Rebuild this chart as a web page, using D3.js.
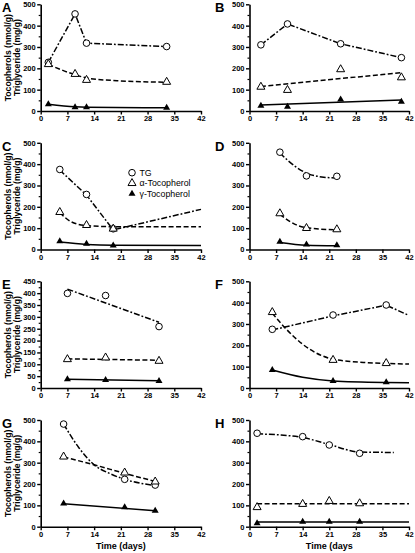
<!DOCTYPE html>
<html><head><meta charset="utf-8">
<script src="https://cdn.jsdelivr.net/npm/d3@7"></script>
<style>body{margin:0;background:#fff}svg{display:block}</style>
</head><body>
<svg id="c" width="415" height="553"></svg>
<script>
// ---- data ----
const panelLetters = ["A","B","C","D","E","F","G","H"];
const yMaxes = [500,500,500,500,450,500,500,500];
const xTicks = [0,7,14,21,28,35,42];
const yTicks500 = [0,100,200,300,400,500];
const yTicks450 = [0,50,100,150,200,250,300,350,400,450];
const legendLabels = ["TG","\u03b1-Tocopherol","\u03b3-Tocopherol"];
const yTitle1 = "Tocopherols (nmol/g)";
const yTitle2 = "Triglyceride (mg/g)";
const xTitles = ["Time (days)","Time (days"];

// measured points [day, value]
const tgPts = [
  [[2,228],[9,455],[12,318],[33,302]],
  [[3,310],[10,408],[24,315],[40,250]],
  [[5,375],[12,258],[19,97]],
  [[8,456],[15,345],[23,343]],
  [[7,399],[17,390],[31,259]],
  [[6,275],[22,342],[36,389]],
  [[6,481],[22,222],[30,195]],
  [[2,438],[14,422],[21,383],[29,344]]
];
const alphaPts = [
  [[2,219],[9,173],[12,145],[33,136]],
  [[3,113],[10,98],[24,195],[40,157]],
  [[5,175],[12,114],[19,97]],
  [[8,169],[15,100],[23,94]],
  [[7,121],[17,128],[31,114]],
  [[6,355],[22,131],[36,116]],
  [[6,328],[22,253],[30,211]],
  [[2,91],[14,106],[21,120],[29,109]]
];
const gammaPts = [
  [[2,32],[9,17],[12,17],[33,15]],
  [[3,25],[10,20],[24,54],[40,43]],
  [[5,39],[12,27],[19,19]],
  [[8,36],[15,23],[23,20]],
  [[7,37],[17,34],[31,30]],
  [[6,84],[22,33],[36,27]],
  [[6,109],[22,91],[30,75]],
  [[2,16],[14,23],[21,23],[29,23]]
];
// fitted / connecting lines [day, value]
const tgLine = [
  [[2,228],[9,455],[12,318],[33,302]],
  [[3,310],[10,408],[24,315],[40,250]],
  [[5,372],[12,255],[19,92],[42,188]],
  [[8,452],[12,390],[15,358],[19,340],[23,335]],
  [[7,417],[31,277]],
  [[6,272],[22,338],[36,388],[42,340]],
  [[6,481],[10,370],[14,290],[18,250],[22,222],[30,193]],
  [[2,435],[8,430],[14,418],[21,385],[29,350],[38,348]]
];
const alphaLine = [
  [[2,218],[9,170],[12,155],[20,142],[33,135]],
  [[3,115],[40,180]],
  [[5,172],[8,130],[12,112],[19,107],[42,107]],
  [[8,165],[12,118],[15,102],[23,92]],
  [[7,123],[31,117]],
  [[6,350],[10,270],[14,205],[22,135],[30,120],[36,115],[42,112]],
  [[6,327],[14,290],[22,250],[30,212]],
  [[2,108],[42,108]]
];
const gammaLine = [
  [[2,32],[9,20],[12,18],[33,15]],
  [[3,28],[40,51]],
  [[5,35],[12,24],[19,20],[42,19]],
  [[8,33],[15,20],[23,17]],
  [[7,37],[31,31]],
  [[6,84],[14,50],[22,33],[36,26],[42,25]],
  [[6,108],[30,75]],
  [[2,22],[42,22]]
];

// ---- layout ----
const svg = d3.select("#c");
const colX = [[40.7,201],[249.5,409]];
const rowBottoms = [111,249.5,388,526.7];
const plotH = 106.7;
const font = "Liberation Sans, Arial, sans-serif";
const linearPanels = new Set([0,1,2,4,5]);

function triPath(w,h){return `M0,${-h*2/3}L${w/2},${h/3}L${-w/2},${h/3}Z`;}

panelLetters.forEach((L,i)=>{
  const col = i%2, row = Math.floor(i/2);
  const [x0,x1] = colX[col];
  const yb = rowBottoms[row], yt = yb-plotH;
  const x = d3.scaleLinear().domain([0,42]).range([x0,x1]);
  const y = d3.scaleLinear().domain([0,yMaxes[i]]).range([yb,yt]);
  const g = svg.append("g");
  const yt_ = yMaxes[i]===450 ? yTicks450 : yTicks500;
  const step = yt_[1]-yt_[0];
  const minor = d3.range(step/2, yMaxes[i], step);

  // minor ticks
  g.append("g").attr("transform",`translate(${x0},0)`)
    .call(d3.axisLeft(y).tickValues(minor).tickSize(2).tickFormat(""))
    .call(a=>{a.select(".domain").remove();a.selectAll("line").attr("stroke-width",1.2);});
  // y axis
  g.append("g").attr("transform",`translate(${x0},0)`)
    .call(d3.axisLeft(y).tickValues(yt_).tickSize(3.5).tickSizeOuter(0).tickPadding(1.5))
    .call(a=>{
      a.select(".domain").attr("stroke-width",1.6);
      a.selectAll("line").attr("stroke-width",1.4);
      a.selectAll("text").attr("font-family",font).attr("font-weight","bold").attr("font-size",7.5).attr("fill","#000");
    });
  // x axis
  g.append("g").attr("transform",`translate(0,${yb})`)
    .call(d3.axisBottom(x).tickValues(xTicks).tickSize(3.5).tickSizeOuter(0).tickPadding(1.5))
    .call(a=>{
      a.select(".domain").attr("stroke-width",1.6);
      a.selectAll("line").attr("stroke-width",1.4);
      a.selectAll("text").attr("font-family",font).attr("font-weight","bold").attr("font-size",7.5).attr("fill","#000");
    });

  // letter
  svg.append("text").attr("x", col===0 ? 2 : 215).attr("y", yt+8)
    .attr("font-family",font).attr("font-weight","bold").attr("font-size",13).text(L);

  // y titles (left column)
  if(col===0){
    const cy = (yb+yt)/2;
    [[yTitle1,10.5],[yTitle2,19.5]].forEach(([t,xx])=>{
      svg.append("text").attr("transform",`translate(${xx},${cy}) rotate(-90)`)
        .attr("text-anchor","middle").attr("font-family",font).attr("font-weight","bold")
        .attr("font-size",8.6).text(t);
    });
  }
  if(row===3){
    svg.append("text").attr("x",(x0+x1)/2).attr("y",yb+22).attr("text-anchor","middle")
      .attr("font-family",font).attr("font-weight","bold").attr("font-size",9).text(xTitles[col]);
  }

  // lines
  const mk = (pts,curve)=>d3.line().x(d=>x(d[0])).y(d=>y(d[1])).curve(curve)(pts);
  g.append("path").attr("d",mk(tgLine[i], linearPanels.has(i)?d3.curveLinear:d3.curveMonotoneX))
    .attr("fill","none").attr("stroke","#000").attr("stroke-width",1.5).attr("stroke-dasharray","6,2,1.8,2");
  g.append("path").attr("d",mk(alphaLine[i], d3.curveMonotoneX))
    .attr("fill","none").attr("stroke","#000").attr("stroke-width",1.5).attr("stroke-dasharray","5,2.5");
  g.append("path").attr("d",mk(gammaLine[i], d3.curveMonotoneX))
    .attr("fill","none").attr("stroke","#000").attr("stroke-width",1.5);

  // markers
  g.selectAll(".tg").data(tgPts[i]).join("circle").attr("cx",d=>x(d[0])).attr("cy",d=>y(d[1]))
    .attr("r",3.3).attr("fill","#fff").attr("stroke","#000").attr("stroke-width",1);
  g.selectAll(".al").data(alphaPts[i]).join("path").attr("d",triPath(8,7))
    .attr("transform",d=>`translate(${x(d[0])},${y(d[1])})`).attr("fill","#fff").attr("stroke","#000").attr("stroke-width",1);
  g.selectAll(".ga").data(gammaPts[i]).join("path").attr("d",triPath(7,6))
    .attr("transform",d=>`translate(${x(d[0])},${y(d[1])})`).attr("fill","#000");

  // legend in C
  if(L==="C"){
    const lx=132, ly=[172.7,183.2,193.7];
    svg.append("circle").attr("cx",lx).attr("cy",ly[0]).attr("r",3.3).attr("fill","#fff").attr("stroke","#000");
    svg.append("path").attr("d",triPath(8,7)).attr("transform",`translate(${lx},${ly[1]})`).attr("fill","#fff").attr("stroke","#000");
    svg.append("path").attr("d",triPath(7,6)).attr("transform",`translate(${lx},${ly[2]})`).attr("fill","#000");
    legendLabels.forEach((t,k)=>{
      svg.append("text").attr("x",139.5).attr("y",ly[k]+3.2).attr("font-family",font).attr("font-size",8.8).text(t);
    });
  }
});
</script>
</body></html>
